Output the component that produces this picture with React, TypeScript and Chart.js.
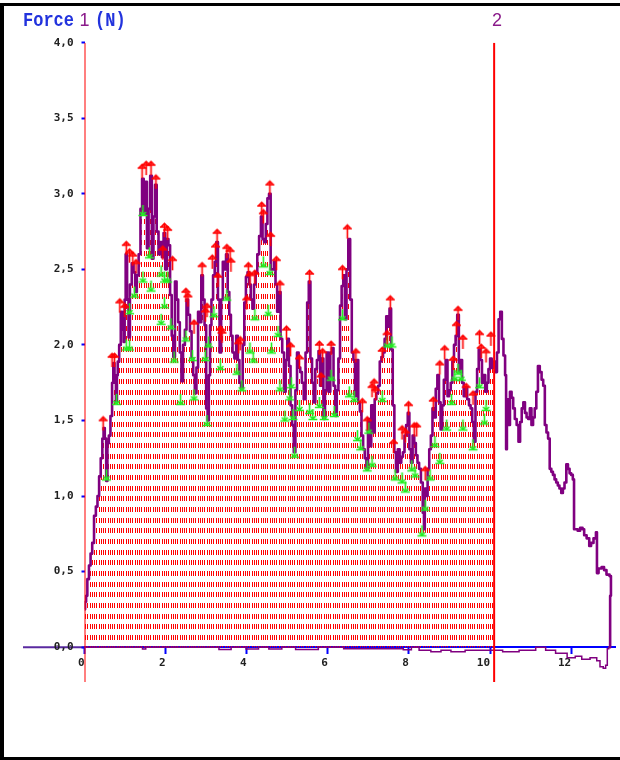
import { useEffect, useRef } from 'react';
import { Chart, registerables } from 'chart.js';

Chart.register(...registerables);

// Force 1 (N) versus time (s)
const forceT = [
  0.00, 0.03, 0.05, 0.09, 0.13, 0.17, 0.21, 0.26, 0.30, 0.34, 0.38, 0.42, 0.46, 0.48, 0.52, 0.55, 0.58, 0.62, 0.66, 0.70,
  0.72, 0.76, 0.79, 0.81, 0.83, 0.88, 0.91, 0.95, 0.98, 1.00, 1.03, 1.07, 1.10, 1.14, 1.19, 1.23, 1.27, 1.31, 1.36, 1.40,
  1.44, 1.48, 1.52, 1.56, 1.60, 1.64, 1.68, 1.72, 1.76, 1.80, 1.85, 1.89, 1.93, 1.97, 2.01, 2.05, 2.09, 2.13, 2.17, 2.21,
  2.25, 2.29, 2.33, 2.37, 2.41, 2.45, 2.50, 2.53, 2.58, 2.62, 2.66, 2.70, 2.74, 2.78, 2.82, 2.86, 2.90, 2.94, 2.98, 3.02,
  3.05, 3.08, 3.11, 3.15, 3.19, 3.23, 3.27, 3.31, 3.35, 3.39, 3.43, 3.47, 3.51, 3.55, 3.59, 3.63, 3.67, 3.72, 3.76, 3.80,
  3.84, 3.88, 3.92, 3.96, 4.00, 4.04, 4.08, 4.12, 4.16, 4.20, 4.24, 4.28, 4.33, 4.37, 4.41, 4.45, 4.49, 4.53, 4.57, 4.61,
  4.65, 4.69, 4.73, 4.77, 4.82, 4.85, 4.90, 4.94, 4.98, 5.02, 5.06, 5.10, 5.14, 5.18, 5.22, 5.26, 5.30, 5.34, 5.38, 5.43,
  5.47, 5.51, 5.55, 5.59, 5.63, 5.67, 5.71, 5.75, 5.79, 5.83, 5.87, 5.91, 5.95, 5.99, 6.04, 6.08, 6.12, 6.16, 6.20, 6.24,
  6.28, 6.32, 6.36, 6.40, 6.44, 6.48, 6.53, 6.57, 6.61, 6.65, 6.69, 6.73, 6.77, 6.81, 6.85, 6.89, 6.93, 6.97, 7.01, 7.05,
  7.09, 7.14, 7.17, 7.22, 7.26, 7.30, 7.34, 7.38, 7.42, 7.46, 7.50, 7.54, 7.58, 7.62, 7.66, 7.70, 7.75, 7.79, 7.83, 7.87,
  7.91, 7.95, 7.99, 8.03, 8.07, 8.11, 8.15, 8.19, 8.23, 8.27, 8.32, 8.36, 8.38, 8.40, 8.44, 8.48, 8.52, 8.56, 8.60, 8.64,
  8.68, 8.72, 8.76, 8.80, 8.84, 8.88, 8.93, 8.97, 9.01, 9.05, 9.09, 9.13, 9.17, 9.21, 9.25, 9.29, 9.33, 9.37, 9.41, 9.46,
  9.50, 9.54, 9.58, 9.62, 9.66, 9.70, 9.74, 9.78, 9.82, 9.86, 9.90, 9.94, 9.98, 10.02, 10.06, 10.10, 10.15, 10.19, 10.23, 10.27,
  10.31, 10.35, 10.39, 10.40, 10.43, 10.47, 10.51, 10.55, 10.59, 10.63, 10.68, 10.72, 10.76, 10.80, 10.84, 10.88, 10.92, 10.96, 11.00, 11.04,
  11.08, 11.12, 11.16, 11.20, 11.25, 11.29, 11.33, 11.37, 11.41, 11.45, 11.49, 11.53, 11.57, 11.61, 11.65, 11.69, 11.73, 11.78, 11.81, 11.86,
  11.90, 11.94, 11.98, 12.02, 12.06, 12.08, 12.14, 12.18, 12.26, 12.30, 12.34, 12.42, 12.47, 12.51, 12.59, 12.63, 12.64, 12.71, 12.79, 12.83,
  12.91, 12.98, 12.98, 12.94,
];
const forceV = [
  0.25, 0.30, 0.34, 0.45, 0.54, 0.62, 0.69, 0.87, 0.93, 1.00, 1.13, 1.25, 1.38, 1.45, 1.38, 1.10, 1.35, 1.40, 1.53, 1.75,
  1.88, 1.75, 1.62, 1.80, 1.89, 2.00, 2.22, 2.10, 2.02, 2.30, 2.60, 2.30, 2.05, 2.40, 2.54, 2.48, 2.35, 2.46, 2.60, 2.90,
  3.10, 2.87, 3.08, 2.64, 2.90, 3.12, 2.57, 2.85, 3.06, 2.75, 2.60, 2.68, 2.58, 2.74, 2.50, 2.70, 2.66, 2.33, 2.06, 1.92,
  2.42, 2.30, 2.15, 1.95, 1.76, 2.00, 2.10, 2.30, 2.20, 2.09, 1.91, 1.80, 1.68, 1.85, 2.22, 2.15, 2.46, 2.30, 2.13, 1.58,
  1.50, 1.80, 2.13, 2.30, 2.46, 2.55, 2.68, 2.30, 1.95, 2.30, 2.55, 2.50, 2.60, 2.35, 2.20, 2.06, 1.95, 1.91, 2.06, 1.90,
  1.75, 1.71, 2.00, 2.28, 2.45, 2.48, 2.40, 2.30, 2.24, 2.40, 2.48, 2.60, 2.72, 2.85, 2.70, 2.68, 2.80, 2.97, 3.00, 2.50,
  2.50, 2.55, 2.40, 2.22, 2.35, 2.04, 1.95, 1.69, 1.90, 2.04, 1.86, 1.60, 1.47, 1.29, 1.70, 1.95, 1.85, 1.82, 1.75, 1.64,
  1.95, 2.28, 2.42, 1.91, 1.75, 1.62, 1.84, 1.90, 1.96, 1.73, 1.91, 1.51, 1.70, 1.95, 1.69, 1.95, 1.98, 1.73, 1.53, 1.70,
  1.91, 2.26, 2.39, 2.46, 2.17, 2.50, 2.70, 2.30, 1.95, 1.90, 1.66, 1.90, 1.62, 1.56, 1.40, 1.31, 1.25, 1.18, 1.51, 1.33,
  1.60, 1.42, 1.64, 1.68, 1.73, 1.89, 1.92, 1.95, 2.04, 2.19, 2.12, 2.24, 1.97, 1.60, 1.29, 1.16, 1.31, 1.22, 1.26, 1.29,
  1.40, 1.47, 1.55, 1.31, 1.22, 1.40, 1.35, 1.27, 1.22, 1.18, 1.09, 0.89, 0.78, 1.05, 1.00, 1.18, 1.31, 1.40, 1.58, 1.52,
  1.71, 1.80, 1.62, 1.44, 1.60, 1.77, 1.90, 1.66, 1.70, 1.75, 1.89, 2.00, 2.06, 2.20, 1.82, 1.90, 1.75, 1.66, 1.72, 1.64,
  1.60, 1.58, 1.49, 1.36, 1.69, 1.84, 1.97, 1.90, 1.75, 1.80, 1.69, 1.75, 1.84, 1.91, 1.85, 1.89, 1.82, 1.95, 2.17, 2.22,
  2.04, 1.93, 1.80, 1.31, 1.64, 1.47, 1.69, 1.65, 1.58, 1.51, 1.47, 1.36, 1.49, 1.58, 1.62, 1.55, 1.52, 1.51, 1.58, 1.47,
  1.52, 1.58, 1.69, 1.86, 1.82, 1.77, 1.73, 1.47, 1.42, 1.38, 1.18, 1.16, 1.14, 1.11, 1.09, 1.07, 1.05, 1.02, 1.05, 1.09,
  1.21, 1.18, 1.15, 1.14, 1.11, 0.78, 0.78, 0.77, 0.79, 0.78, 0.74, 0.72, 0.67, 0.69, 0.72, 0.76, 0.49, 0.52, 0.53, 0.51,
  0.48, 0.47, 0.34, 0.00,
];

// second trace, close to zero
const baseT = [
  0, 1.42, 1.44, 1.50, 1.52, 3.30, 3.33, 3.60, 3.63, 3.97, 4.00, 4.28, 4.30, 4.53, 4.56, 4.85, 4.88, 5.19, 5.22, 5.75,
  5.78, 7.00, 7.70, 8.02, 8.10, 8.40, 8.68, 8.90, 9.17, 9.60, 9.82, 10.15, 10.47, 10.96, 11.29, 11.45, 11.78, 12.02, 12.18, 12.34,
  12.59, 12.67, 12.75, 12.83, 12.87, 12.91, 12.94,
];
const baseV = [
  0, 0, -0.012, -0.012, 0, 0, -0.015, -0.015, 0, 0, -0.012, -0.012, 0, 0, -0.012, -0.012, 0, 0, -0.015, -0.015,
  0, -0.01, -0.01, -0.018, 0, -0.02, -0.03, -0.02, -0.03, -0.02, -0.02, -0.02, -0.03, -0.02, 0, -0.02, -0.04, -0.07, -0.06, -0.08,
  -0.07, -0.09, -0.13, -0.14, -0.12, -0.01, 0,
];

// detected maxima (red) and minima (green)
const peakT = [
  0.46, 0.68, 0.74, 0.87, 0.99, 1.03, 1.11, 1.19, 1.27, 1.42, 1.52, 1.64, 1.76, 1.93, 1.97, 2.05, 2.17, 2.50, 2.55, 2.70,
  2.90, 2.98, 3.02, 3.15, 3.23, 3.27, 3.29, 3.35, 3.39, 3.51, 3.59, 3.61, 3.80, 3.84, 4.00, 4.04, 4.08, 4.20, 4.37, 4.41,
  4.57, 4.59, 4.73, 4.82, 4.98, 5.08, 5.30, 5.55, 5.79, 5.83, 5.87, 6.08, 6.36, 6.48, 6.69, 6.85, 6.97, 7.09, 7.14, 7.18,
  7.34, 7.46, 7.54, 7.62, 7.83, 7.91, 7.99, 8.13, 8.19, 8.40, 8.60, 8.76, 8.88, 9.09, 9.17, 9.21, 9.33, 9.41, 9.58, 9.74,
  9.78, 9.90, 10.02,
];
const peakV = [
  1.50, 1.92, 1.92, 2.28, 2.25, 2.66, 2.61, 2.59, 2.54, 3.17, 3.19, 3.19, 3.10, 2.63, 2.78, 2.76, 2.56, 2.35, 2.32, 2.14,
  2.52, 2.22, 2.25, 2.57, 2.65, 2.74, 2.45, 2.10, 2.08, 2.64, 2.62, 2.55, 2.01, 2.03, 2.30, 2.52, 2.46, 2.47, 2.92, 2.87,
  3.06, 2.72, 2.56, 2.40, 2.10, 1.99, 1.91, 2.47, 2.00, 1.79, 1.95, 2.00, 2.50, 2.77, 1.95, 1.62, 1.50, 1.72, 1.75, 1.70,
  1.96, 2.07, 2.30, 1.35, 1.44, 1.42, 1.60, 1.46, 1.46, 1.17, 1.63, 1.87, 1.97, 1.90, 2.13, 2.23, 2.04, 1.72, 1.67, 2.07,
  1.98, 1.95, 2.06,
];
const valleyT = [
  0.54, 0.79, 1.03, 1.11, 1.11, 1.23, 1.44, 1.44, 1.60, 1.64, 1.89, 1.97, 2.05, 1.89, 1.97, 2.13, 2.21, 2.37, 2.50, 2.66,
  2.70, 2.98, 3.02, 3.06, 3.19, 3.35, 3.51, 3.76, 3.88, 4.08, 4.16, 4.20, 4.41, 4.53, 4.57, 4.61, 4.77, 4.82, 4.94, 5.06,
  5.10, 5.14, 5.18, 5.30, 5.55, 5.63, 5.79, 5.91, 6.08, 6.16, 6.36, 6.53, 6.65, 6.73, 6.81, 6.97, 7.01, 7.09, 7.34, 7.46,
  7.58, 7.66, 7.83, 7.91, 8.07, 8.15, 8.32, 8.40, 8.52, 8.64, 8.76, 8.93, 9.05, 9.13, 9.21, 9.29, 9.33, 9.58, 9.74, 9.86,
  9.90,
];
const valleyV = [
  1.11, 1.61, 1.97, 1.97, 2.21, 2.32, 2.42, 2.86, 2.58, 2.36, 2.46, 2.42, 2.42, 2.14, 2.25, 2.11, 1.89, 1.61, 2.03, 1.90,
  1.64, 1.90, 1.47, 1.99, 2.19, 1.84, 2.30, 1.81, 1.70, 1.95, 1.89, 2.17, 2.52, 2.20, 2.47, 1.95, 2.06, 1.70, 1.50, 1.64,
  1.72, 1.51, 1.26, 1.57, 1.55, 1.51, 1.59, 1.51, 1.77, 1.53, 2.17, 1.66, 1.63, 1.37, 1.31, 1.17, 1.42, 1.20, 1.63, 1.99,
  1.99, 1.11, 1.09, 1.03, 1.17, 1.13, 0.74, 0.91, 1.11, 1.33, 1.22, 1.44, 1.61, 1.77, 1.81, 1.77, 1.44, 1.31, 1.72, 1.48,
  1.57,
];

// cursors (1 and 2)
const cursorT = [0, 10.1];
const cursorLabels = ['1', '2'];

const X_MIN = 0;
const X_MAX = 13.08;
const Y_MIN = -0.23;
const Y_MAX = 4.0;

function makeMarker(color: string, up: boolean) {
  const c = document.createElement('canvas');
  c.width = 11;
  c.height = 24;
  const g = c.getContext('2d')!;
  g.strokeStyle = color;
  g.lineWidth = 1.6;
  g.beginPath();
  if (up) {
    g.moveTo(1, 12); g.lineTo(10, 12);
    g.moveTo(2.5, 11.5); g.lineTo(5.5, 8.5); g.lineTo(8.5, 11.5);
    g.moveTo(5.5, 8.5); g.lineTo(5.5, 22);
  } else {
    g.moveTo(5.5, 2); g.lineTo(5.5, 12);
    g.moveTo(2.5, 9); g.lineTo(5.5, 12); g.lineTo(8.5, 9);
    g.moveTo(1, 12.5); g.lineTo(10, 12.5);
  }
  g.stroke();
  return c;
}

const pts = (ts: number[], vs: number[]) => ts.map((t, i) => ({ x: t, y: vs[i] }));

export default function App() {
  const ref = useRef<HTMLCanvasElement>(null);

  useEffect(() => {
    const canvas = ref.current!;
    const ctx = canvas.getContext('2d')!;

    const tile = document.createElement('canvas');
    tile.width = 9;
    tile.height = 32;
    const tg = tile.getContext('2d')!;
    tg.fillStyle = '#ff0000';
    for (const ry of [0, 11, 21]) for (const rx of [0, 2, 4, 6]) tg.fillRect(rx, ry, 1, 5);
    const pattern = ctx.createPattern(tile, 'repeat')!;
    pattern.setTransform(new DOMMatrix([1, 0, 0, 1, 0, 27]));

    const main = pts(forceT, forceV);
    const area = main.filter((p) => p.x <= cursorT[1] + 1e-9);
    const tickFont = { family: '"DejaVu Sans Mono", monospace', size: 11, weight: 'bold' as const };

    const zeroExt = {
      id: 'zeroExt',
      beforeDraw(chart: any) {
        const y = chart.scales.y.getPixelForValue(0);
        const c = chart.ctx;
        c.save();
        c.strokeStyle = '#5a2aa0';
        c.lineWidth = 2;
        c.beginPath();
        c.moveTo(23, y);
        c.lineTo(chart.chartArea.left, y);
        c.stroke();
        c.restore();
      },
    };

    const chart = new Chart(canvas, {
      type: 'line',
      data: {
        datasets: [
          { data: pts(peakT, peakV), showLine: false, pointStyle: makeMarker('#ff0000', true), pointRadius: 3, order: 0 } as any,
          { data: pts(valleyT, valleyV), showLine: false, pointStyle: makeMarker('#22ee22', false), pointRadius: 3, order: 0 } as any,
          ...cursorT.map((t) => ({
            data: [{ x: t, y: Y_MIN }, { x: t, y: Y_MAX }],
            borderColor: '#ff0000', borderWidth: 2, pointRadius: 0, order: 1, fill: false,
          })),
          { data: main, borderColor: '#800080', borderWidth: 2.6, pointRadius: 0, stepped: 'middle', order: 2, fill: false, borderJoinStyle: 'round' } as any,
          { data: pts(baseT, baseV), borderColor: '#800080', borderWidth: 1.5, pointRadius: 0, stepped: 'middle', order: 3, fill: false } as any,
          { data: area, borderColor: 'rgba(0,0,0,0)', borderWidth: 0, backgroundColor: pattern, fill: 'origin', pointRadius: 0, stepped: 'middle', order: 4 } as any,
        ],
      },
      options: {
        responsive: false,
        animation: false,
        events: [],
        layout: { padding: { left: 0, right: 0, top: 42.7, bottom: 78.1 } },
        plugins: { legend: { display: false }, tooltip: { enabled: false } },
        scales: {
          x: {
            type: 'linear', min: X_MIN, max: X_MAX, position: { y: 0 } as any, z: 1,
            grid: { drawOnChartArea: false, drawTicks: true, tickLength: 6, tickColor: '#0000ff', tickWidth: 2 },
            border: { display: true, color: '#0000ff', width: 2 },
            ticks: {
              stepSize: 2, includeBounds: false, align: 'end', padding: 3, color: '#202020', font: tickFont,
              maxRotation: 0, autoSkip: false, callback: (v: any) => String(v),
            },
            afterFit: (s: any) => { s.paddingLeft = 0; s.paddingRight = 0; },
          },
          y: {
            type: 'linear', min: Y_MIN, max: Y_MAX, position: 'left',
            grid: { drawOnChartArea: false, drawTicks: true, tickLength: 3, tickColor: '#0000ff', tickWidth: 2 },
            border: { display: false },
            ticks: {
              stepSize: 0.5, includeBounds: false, padding: 8, color: '#202020', font: tickFont,
              callback: (v: any) => Number(v).toFixed(1).replace('.', ','),
            },
            afterFit: (s: any) => { s.width = 84.5; },
          },
        },
      } as any,
      plugins: [zeroExt],
    });
    return () => chart.destroy();
  }, []);

  const labelStyle = (left: number): React.CSSProperties => ({
    position: 'absolute', left, top: 11, width: 20, textAlign: 'center', lineHeight: '18px',
    fontFamily: '"Liberation Sans", Arial, sans-serif', fontSize: 18, color: '#8a1a8a',
  });
  const titleStyle = (left: number): React.CSSProperties => ({
    position: 'absolute', left, top: 14, lineHeight: '17px', fontFamily: '"Liberation Mono", monospace',
    fontWeight: 'bold', fontSize: 17, color: '#2233dd', transform: 'scaleY(1.2)', transformOrigin: 'left bottom',
    whiteSpace: 'pre',
  });

  return (
    <div style={{ position: 'absolute', left: 0, top: 0, width: 620, height: 760, overflow: 'hidden', background: '#fff' }}>
      <canvas ref={ref} width={620} height={760} style={{ position: 'absolute', left: 0, top: 0, width: 620, height: 760 }} />
      <div style={{ position: 'absolute', left: 0, top: 3, width: 700, height: 751, borderLeft: '4px solid #000', borderTop: '3px solid #000', borderBottom: '3px solid #000', pointerEvents: 'none' }} />
      <span style={titleStyle(23)}>Force</span>
      <span style={labelStyle(84.5 - 10)}>{cursorLabels[0]}</span>
      <span style={titleStyle(95)}>(N)</span>
      <span style={labelStyle(497 - 10)}>{cursorLabels[1]}</span>
    </div>
  );
}
